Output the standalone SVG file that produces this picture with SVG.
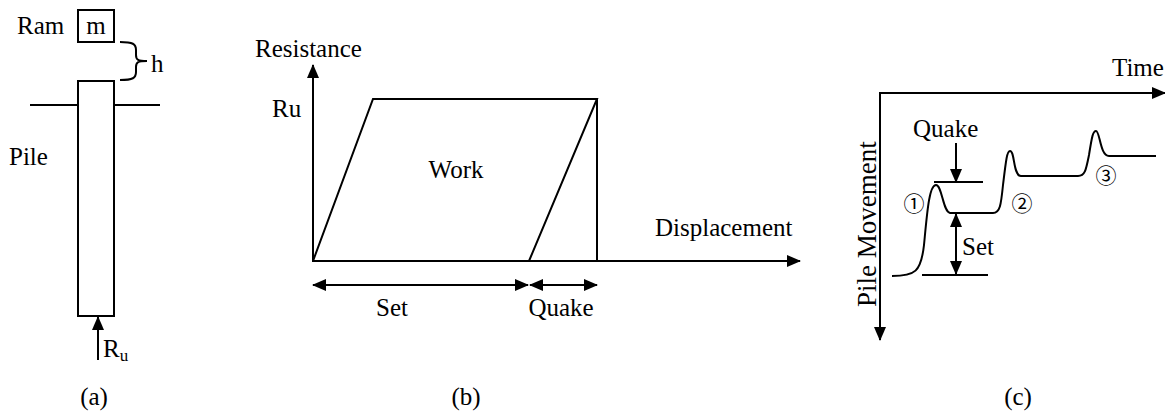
<svg xmlns="http://www.w3.org/2000/svg" width="1165" height="415" viewBox="0 0 1165 415">
<style>
.t{font-family:"Liberation Serif","Times New Roman",serif;font-size:25px;fill:#000}
.s{font-size:17px}
.ln{stroke:#000;stroke-width:2;fill:none}
.cn{font-family:"Noto Sans CJK JP","DejaVu Sans",sans-serif;font-size:21px;fill:#000}
</style>
<defs>
<marker id="ah" viewBox="0 0 14 12" refX="13" refY="6" markerWidth="14" markerHeight="12" markerUnits="userSpaceOnUse" orient="auto-start-reverse">
<path d="M0,0 L14,6 L0,12 z" fill="#000"/>
</marker>
</defs>
<rect width="1165" height="415" fill="#fff"/>

<g id="panel-a">
<g id="ram"><rect class="ln" x="78" y="10" width="36" height="32"/><text class="t" x="96" y="34" text-anchor="middle">m</text><text class="t" x="17" y="34">Ram</text></g>
<g id="brace"><path class="ln" d="M120,42 C133,42 136,44 136,50 L136,55 C136,60 138,61 147,61 C138,61 136,62 136,67 L136,72 C136,78 133,80 120,80"/><text class="t" x="151" y="72">h</text></g>
<g id="pile"><rect class="ln" x="78" y="81" width="36" height="235"/><text class="t" x="9" y="165">Pile</text></g>
<g id="ground"><line class="ln" x1="30" y1="105" x2="78" y2="105"/><line class="ln" x1="114" y1="105" x2="160" y2="105"/></g>
<g id="ru"><text class="t" x="103" y="357">R<tspan class="s" dy="4">u</tspan></text></g>
<text class="t" x="94" y="405" text-anchor="middle">(a)</text>
</g>

<g id="panel-b">
<g id="work-loop"><path class="ln" d="M313,261 L373,99 L597,99 L529,261"/><line class="ln" x1="597" y1="99" x2="597" y2="261"/></g>
<text class="t" x="255" y="57">Resistance</text>
<text class="t" x="272" y="117">Ru</text>
<text class="t" x="456" y="178" text-anchor="middle">Work</text>
<text class="t" x="655" y="236">Displacement</text>
<text class="t" x="392" y="316" text-anchor="middle">Set</text>
<text class="t" x="561" y="316" text-anchor="middle">Quake</text>
<text class="t" x="466" y="405" text-anchor="middle">(b)</text>
</g>

<g id="panel-c">
<path id="movement-curve" class="ln" d="M892,276 C915,276 921,272 924,245 C927,214 929,185 936,185 C942,185 943,212 950,213 L993,213 C1000,213 1001,205 1003,185 C1006,160 1007,151 1010,151 C1015,151 1013,176 1021,176 L1078,176 C1085,176 1086,170 1089,155 C1092,136 1093,131 1096,131 C1100,131 1100,156 1109,156 L1156,156"/>
<line class="ln" x1="934" y1="182" x2="983" y2="182"/>
<line class="ln" x1="922" y1="275" x2="988" y2="275"/>
<text class="t" x="913" y="137">Quake</text>
<text class="t" x="962" y="255">Set</text>
<text class="t" x="1112" y="76">Time</text>
<text class="t" transform="translate(876,307) rotate(-90)" style="font-size:27px">Pile Movement</text>
<text class="cn" x="914" y="211" text-anchor="middle">①</text>
<text class="cn" x="1022" y="211" text-anchor="middle">②</text>
<text class="cn" x="1106" y="183" text-anchor="middle">③</text>
<text class="t" x="1018" y="405" text-anchor="middle">(c)</text>
</g>

<g id="connectors">
<line class="ln" x1="98" y1="360" x2="98" y2="317" marker-end="url(#ah)"/>
<line class="ln" x1="313" y1="262" x2="313" y2="65" marker-end="url(#ah)"/>
<line class="ln" x1="312" y1="261" x2="800" y2="261" marker-end="url(#ah)"/>
<line class="ln" x1="313" y1="285" x2="528" y2="285" marker-start="url(#ah)" marker-end="url(#ah)"/>
<line class="ln" x1="530" y1="285" x2="597" y2="285" marker-start="url(#ah)" marker-end="url(#ah)"/>
<line class="ln" x1="879" y1="93" x2="1165" y2="93" marker-end="url(#ah)"/>
<line class="ln" x1="880" y1="92" x2="880" y2="340" marker-end="url(#ah)"/>
<line class="ln" x1="956" y1="143" x2="956" y2="182" marker-end="url(#ah)"/>
<line class="ln" x1="956" y1="214" x2="956" y2="274" marker-start="url(#ah)" marker-end="url(#ah)"/>
</g>
</svg>
